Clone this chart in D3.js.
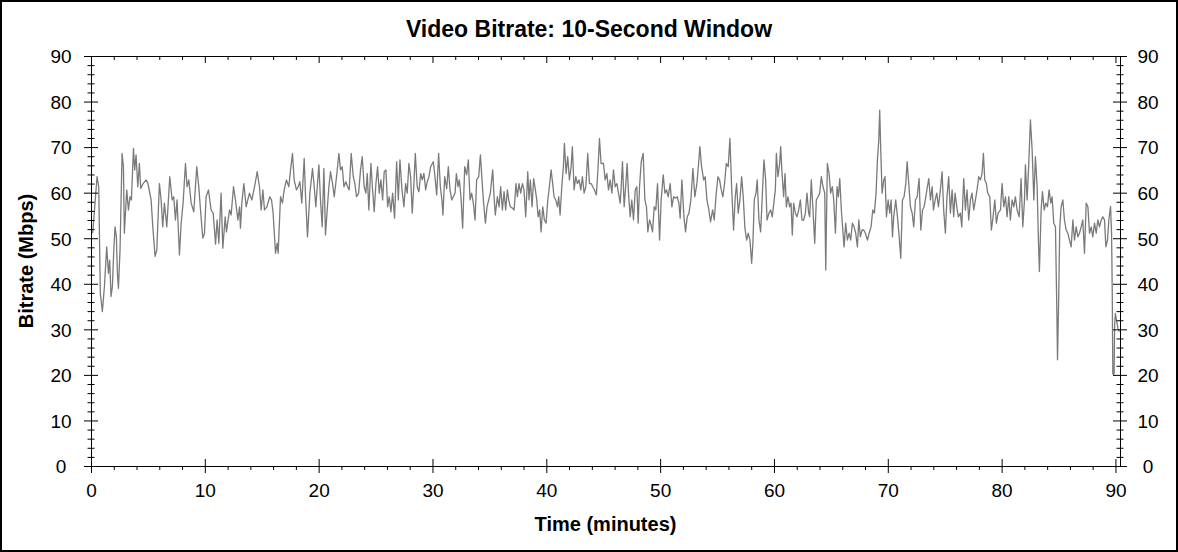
<!DOCTYPE html>
<html>
<head>
<meta charset="utf-8">
<script src="https://cdn.jsdelivr.net/npm/d3@7"></script>
<style>
  body { margin: 0; background: #fff; }
  svg text { font-family: "Liberation Sans", Arial, sans-serif; fill: #000; }
</style>
</head>
<body>
<div id="vis"></div>
<script>
const FRAME_WIDTH = 1178;
const FRAME_HEIGHT = 552;
const MARGINS = { top: 56, bottom: 466, left: 91, right: 1120 };

const TITLE = "Video Bitrate: 10-Second Window";
const X_TITLE = "Time (minutes)";
const Y_TITLE = "Bitrate (Mbps)";

const X_TICKS = [0, 10, 20, 30, 40, 50, 60, 70, 80, 90];
const Y_TICKS = [0, 10, 20, 30, 40, 50, 60, 70, 80, 90];

// [minute, Mbps], one array per stretch of the film
const SAMPLES_00_15 = [
  [0.15, 51.1], [0.53, 63.5], [0.68, 61.2], [0.82, 37.9], [1.0, 33.9], [1.18, 39.4], [1.38, 48.1],
  [1.53, 42.3], [1.64, 45.2], [1.76, 37.2], [1.88, 39.4], [1.99, 46.7], [2.11, 52.5], [2.23, 50.3],
  [2.32, 42.3], [2.41, 39.0], [2.55, 47.4], [2.73, 68.6], [2.85, 65.7], [2.93, 51.1], [3.14, 60.6],
  [3.29, 56.2], [3.43, 59.1], [3.55, 58.4], [3.73, 69.7], [3.84, 65.0], [3.96, 68.3], [4.11, 61.3],
  [4.25, 66.4], [4.37, 60.9], [4.58, 62.0], [4.84, 62.8], [5.01, 62.0], [5.28, 58.4], [5.43, 52.5],
  [5.63, 46.0], [5.78, 47.4], [6.01, 62.0], [6.16, 58.4], [6.3, 52.5], [6.45, 57.7], [6.66, 52.5],
  [6.92, 63.5], [7.13, 58.4], [7.27, 59.1], [7.42, 54.0], [7.56, 58.4], [7.77, 46.3], [7.92, 53.3],
  [8.09, 57.7], [8.3, 66.4], [8.44, 61.3], [8.59, 62.8], [8.8, 57.7], [9.03, 55.8], [9.29, 65.7],
  [9.47, 61.3], [9.62, 56.2], [9.82, 50.0], [9.97, 51.1], [10.11, 59.1], [10.32, 60.6], [10.55, 56.2],
  [10.73, 55.5], [10.85, 51.8], [10.94, 48.7], [11.08, 54.0], [11.23, 48.9], [11.43, 59.9], [11.58, 47.8],
  [11.79, 54.7], [11.9, 51.4], [12.17, 56.2], [12.31, 55.1], [12.52, 61.3], [12.69, 58.4], [12.9, 54.0],
  [13.05, 56.9], [13.13, 52.2], [13.25, 57.7], [13.43, 62.0], [13.63, 56.9], [13.92, 59.9], [14.13, 58.4],
  [14.42, 62.0], [14.6, 64.6], [14.8, 61.3], [14.95, 56.2], [15.1, 60.6], [15.24, 56.2], [15.45, 56.9],
];

const SAMPLES_15_30 = [
  [15.71, 59.1], [15.86, 58.4], [16.0, 55.5], [16.21, 46.7], [16.35, 48.9], [16.44, 46.7], [16.65, 59.1],
  [16.82, 57.7], [16.97, 60.6], [17.17, 62.8], [17.38, 61.3], [17.53, 65.0], [17.7, 68.6], [17.85, 62.8],
  [18.05, 60.6], [18.2, 61.3], [18.35, 62.4], [18.52, 57.7], [18.73, 67.5], [18.85, 59.1], [19.02, 50.3],
  [19.23, 59.9], [19.46, 65.3], [19.61, 61.3], [19.75, 56.9], [20.02, 66.1], [20.16, 58.4], [20.31, 52.5],
  [20.46, 65.3], [20.6, 50.7], [20.75, 56.2], [20.9, 61.3], [21.04, 64.6], [21.22, 62.0], [21.37, 59.1],
  [21.57, 63.5], [21.78, 68.6], [21.92, 65.0], [22.07, 65.7], [22.22, 61.3], [22.39, 62.4], [22.54, 61.3],
  [22.68, 60.6], [22.86, 68.6], [23.04, 63.5], [23.18, 62.0], [23.33, 59.1], [23.51, 59.9], [23.68, 65.0],
  [23.83, 67.9], [24.0, 61.3], [24.15, 59.9], [24.27, 64.2], [24.41, 56.2], [24.59, 66.4], [24.74, 60.6],
  [24.88, 55.8], [25.03, 62.0], [25.18, 65.7], [25.32, 59.9], [25.47, 62.8], [25.62, 58.4], [25.76, 64.6],
  [25.91, 65.0], [26.06, 56.9], [26.2, 59.1], [26.35, 55.8], [26.5, 59.9], [26.67, 54.4], [26.85, 66.8],
  [27.0, 58.4], [27.14, 67.2], [27.32, 60.6], [27.49, 56.9], [27.64, 62.0], [27.78, 59.9], [27.93, 66.4],
  [28.08, 63.5], [28.22, 55.5], [28.37, 62.0], [28.49, 68.6], [28.66, 61.3], [28.81, 60.2], [28.96, 64.2],
  [29.1, 62.8], [29.25, 64.2], [29.4, 60.6], [29.54, 62.4], [29.69, 63.5], [29.84, 65.7],
];

const SAMPLES_30_45 = [
  [30.07, 66.8], [30.22, 63.5], [30.37, 59.5], [30.54, 68.6], [30.69, 61.3], [30.83, 58.4], [30.92, 55.1],
  [31.07, 63.5], [31.25, 60.9], [31.39, 65.7], [31.54, 60.6], [31.69, 58.4], [31.83, 59.1], [31.98, 59.9],
  [32.1, 64.2], [32.24, 61.3], [32.36, 62.8], [32.5, 59.1], [32.65, 52.2], [32.83, 65.7], [33.0, 63.9],
  [33.15, 67.2], [33.3, 58.4], [33.44, 59.9], [33.59, 57.7], [33.74, 54.0], [33.88, 62.8], [34.06, 63.5],
  [34.21, 68.3], [34.35, 62.8], [34.47, 58.4], [34.65, 53.3], [34.79, 56.9], [34.94, 58.4], [35.08, 59.9],
  [35.29, 65.0], [35.41, 59.1], [35.52, 55.1], [35.7, 59.1], [35.85, 56.9], [35.99, 61.3], [36.14, 56.2],
  [36.29, 60.2], [36.43, 56.2], [36.58, 60.6], [36.7, 58.4], [36.84, 56.9], [37.02, 56.6], [37.17, 56.2],
  [37.34, 62.0], [37.46, 59.1], [37.6, 62.0], [37.75, 59.9], [37.9, 62.0], [38.04, 60.6], [38.19, 54.7],
  [38.37, 64.6], [38.48, 58.4], [38.6, 62.8], [38.75, 56.9], [38.89, 63.1], [39.04, 60.6], [39.16, 58.4],
  [39.28, 54.7], [39.42, 56.2], [39.54, 51.4], [39.69, 56.9], [39.83, 54.0], [39.98, 53.3], [40.13, 58.4],
  [40.27, 61.3], [40.42, 65.0], [40.56, 62.0], [40.68, 59.1], [40.83, 58.4], [40.98, 56.9], [41.09, 59.1],
  [41.21, 55.1], [41.36, 61.3], [41.5, 65.7], [41.59, 70.8], [41.74, 64.2], [41.88, 67.9], [42.03, 62.8],
  [42.18, 65.7], [42.29, 70.1], [42.44, 60.6], [42.59, 63.5], [42.73, 62.0], [42.88, 62.8], [43.03, 60.6],
  [43.17, 63.5], [43.32, 59.9], [43.47, 61.3], [43.64, 68.6], [43.79, 62.0], [43.94, 62.0], [44.08, 61.3],
  [44.23, 60.6], [44.4, 59.5], [44.55, 65.7], [44.67, 71.9], [44.81, 66.4],
];

const SAMPLES_45_60 = [
  [45.02, 66.4], [45.17, 62.8], [45.32, 64.2], [45.46, 60.6], [45.61, 62.8], [45.76, 59.9], [45.9, 65.0],
  [46.05, 61.3], [46.2, 62.0], [46.34, 59.9], [46.49, 57.7], [46.58, 61.3], [46.69, 66.8], [46.84, 56.9],
  [46.99, 62.0], [47.1, 66.4], [47.22, 59.9], [47.37, 54.7], [47.51, 58.4], [47.66, 54.0], [47.81, 60.6],
  [47.95, 61.3], [48.07, 53.3], [48.19, 61.3], [48.34, 66.8], [48.51, 68.6], [48.66, 58.4], [48.8, 56.9],
  [48.92, 51.4], [49.07, 54.0], [49.21, 52.9], [49.33, 51.4], [49.48, 56.9], [49.62, 56.2], [49.77, 62.0],
  [49.95, 49.6], [50.09, 58.4], [50.27, 63.9], [50.42, 59.9], [50.56, 60.6], [50.71, 59.1], [50.88, 62.0],
  [51.03, 56.9], [51.18, 59.1], [51.35, 58.8], [51.5, 59.1], [51.65, 57.7], [51.76, 54.4], [51.91, 62.8],
  [52.09, 54.7], [52.23, 51.4], [52.38, 54.7], [52.53, 55.5], [52.7, 58.4], [52.88, 65.3], [53.05, 59.1],
  [53.23, 62.0], [53.38, 66.4], [53.49, 70.1], [53.64, 65.7], [53.82, 62.8], [53.96, 63.5], [54.11, 58.4],
  [54.28, 56.2], [54.43, 53.6], [54.61, 56.2], [54.75, 54.0], [54.93, 59.9], [55.08, 63.5], [55.22, 62.8],
  [55.37, 60.6], [55.51, 59.1], [55.66, 62.0], [55.81, 66.4], [55.98, 65.7], [56.13, 71.9], [56.28, 61.3],
  [56.45, 51.8], [56.6, 59.1], [56.72, 62.0], [56.86, 55.5], [57.01, 58.4], [57.16, 63.5], [57.3, 59.1],
  [57.45, 52.2], [57.6, 49.6], [57.74, 51.1], [57.89, 49.6], [58.04, 44.5], [58.15, 48.9], [58.27, 58.4],
  [58.42, 59.9], [58.53, 62.8], [58.68, 54.0], [58.83, 51.4], [58.97, 59.1], [59.12, 67.2], [59.27, 62.8],
  [59.39, 54.0], [59.56, 55.5], [59.71, 56.2], [59.85, 54.7],
];

const SAMPLES_60_75 = [
  [60.12, 60.6], [60.21, 68.6], [60.35, 63.5], [60.5, 66.4], [60.59, 70.1], [60.71, 64.2], [60.85, 59.1],
  [60.97, 64.2], [61.09, 56.9], [61.23, 59.1], [61.38, 56.9], [61.5, 57.7], [61.61, 50.7], [61.73, 57.7],
  [61.88, 55.5], [62.02, 54.7], [62.17, 56.2], [62.32, 58.4], [62.46, 54.0], [62.61, 54.0], [62.76, 55.5],
  [62.9, 59.9], [63.05, 55.5], [63.14, 54.7], [63.28, 62.8], [63.43, 56.2], [63.58, 48.9], [63.72, 58.4],
  [63.87, 59.1], [64.02, 59.9], [64.16, 63.5], [64.31, 61.3], [64.46, 59.9], [64.55, 43.0], [64.69, 66.4],
  [64.84, 64.2], [64.98, 59.9], [65.13, 61.3], [65.25, 58.4], [65.4, 51.1], [65.54, 61.3], [65.66, 59.1],
  [65.78, 63.1], [65.92, 56.2], [66.07, 51.1], [66.16, 48.1], [66.3, 53.3], [66.45, 49.6], [66.6, 51.1],
  [66.74, 49.6], [66.89, 53.3], [67.04, 52.5], [67.18, 51.1], [67.33, 48.1], [67.45, 54.0], [67.59, 50.3],
  [67.74, 51.8], [67.89, 51.8], [68.03, 51.1], [68.21, 49.6], [68.36, 51.1], [68.53, 52.5], [68.68, 56.2],
  [68.82, 55.5], [68.97, 59.9], [69.09, 67.2], [69.21, 71.6], [69.29, 78.1], [69.38, 69.4], [69.5, 59.9],
  [69.65, 62.8], [69.76, 63.5], [69.88, 54.7], [70.03, 58.4], [70.17, 55.5], [70.29, 58.4], [70.41, 50.3],
  [70.52, 54.7], [70.7, 58.4], [70.85, 54.7], [71.0, 50.3], [71.14, 45.6], [71.29, 58.4], [71.43, 59.1],
  [71.58, 62.0], [71.7, 66.8], [71.84, 62.0], [71.99, 56.9], [72.14, 55.5], [72.28, 52.5], [72.43, 58.4],
  [72.58, 59.1], [72.75, 63.1], [72.9, 51.8], [73.05, 56.2], [73.19, 56.9], [73.34, 59.1], [73.48, 61.3],
  [73.6, 63.1], [73.75, 58.4], [73.9, 61.3], [74.01, 56.2], [74.16, 58.4], [74.3, 59.9], [74.45, 56.9],
];

const SAMPLES_75_90 = [
  [74.62, 60.6], [74.77, 64.6], [74.91, 56.2], [75.06, 51.1], [75.2, 59.1], [75.35, 63.5], [75.5, 55.5],
  [75.65, 60.6], [75.79, 54.7], [75.91, 59.9], [76.06, 56.9], [76.2, 54.7], [76.38, 55.5], [76.5, 52.5],
  [76.67, 63.1], [76.82, 56.2], [76.96, 60.6], [77.11, 54.0], [77.26, 58.4], [77.4, 59.9], [77.55, 56.2],
  [77.7, 58.4], [77.84, 60.6], [77.99, 63.5], [78.14, 62.8], [78.28, 64.2], [78.4, 68.6], [78.52, 62.8],
  [78.66, 62.0], [78.78, 59.9], [78.96, 59.1], [79.1, 51.8], [79.25, 54.7], [79.4, 58.4], [79.54, 53.3],
  [79.69, 55.5], [79.9, 56.2], [80.04, 62.0], [80.19, 56.9], [80.34, 59.1], [80.48, 54.7], [80.63, 59.1],
  [80.77, 54.0], [80.92, 58.4], [81.07, 56.9], [81.21, 59.1], [81.36, 56.2], [81.54, 54.7], [81.71, 63.1],
  [81.86, 52.5], [82.01, 58.4], [82.09, 66.1], [82.24, 58.4], [82.39, 66.8], [82.53, 76.0], [82.68, 69.4],
  [82.83, 58.4], [82.97, 67.9], [83.12, 61.3], [83.24, 48.9], [83.32, 42.7], [83.47, 56.2], [83.59, 60.2],
  [83.74, 56.2], [83.88, 57.7], [84.03, 56.9], [84.17, 60.6], [84.32, 57.7], [84.44, 59.1], [84.58, 53.3],
  [84.73, 52.5], [84.85, 34.2], [84.91, 23.3], [85.0, 35.0], [85.11, 52.5], [85.23, 56.9], [85.38, 58.4],
  [85.52, 54.0], [85.67, 51.8], [85.82, 51.1], [85.96, 49.6], [86.11, 48.1], [86.26, 54.0], [86.4, 49.6],
  [86.55, 52.5], [86.7, 50.3], [86.84, 51.1], [86.99, 52.5], [87.13, 54.0], [87.28, 46.7], [87.43, 57.7],
  [87.58, 56.9], [87.72, 51.1], [87.87, 52.5], [88.01, 50.3], [88.16, 53.3], [88.31, 51.1], [88.45, 54.0],
  [88.6, 52.5], [88.75, 54.0], [88.89, 54.7], [89.04, 54.0], [89.16, 48.1], [89.3, 49.6], [89.42, 54.0],
  [89.57, 57.0], [89.66, 51.1], [89.72, 38.0], [89.77, 20.2], [89.88, 20.2], [89.93, 31.0], [89.99, 33.5],
  [90.09, 32.0], [90.24, 30.0], [90.36, 29.5],
];

const SAMPLES = [].concat(
  SAMPLES_00_15, SAMPLES_15_30, SAMPLES_30_45,
  SAMPLES_45_60, SAMPLES_60_75, SAMPLES_75_90
);

const FRAME = d3
  .select("#vis")
  .append("svg")
  .attr("width", FRAME_WIDTH)
  .attr("height", FRAME_HEIGHT)
  .attr("class", "frame");

// outer border
FRAME.append("rect")
  .attr("x", 1)
  .attr("y", 1)
  .attr("width", FRAME_WIDTH - 2)
  .attr("height", FRAME_HEIGHT - 2)
  .attr("fill", "#fff")
  .attr("stroke", "#000")
  .attr("stroke-width", 2);

const X_SCALE = d3.scaleLinear().domain([0, 90.4]).range([MARGINS.left, MARGINS.right]);
const Y_SCALE = d3.scaleLinear().domain([0, 90]).range([MARGINS.bottom, MARGINS.top]);

const X_MINOR = d3.range(0, 91, 2).filter((v) => v % 10 !== 0);
const Y_MINOR = d3.range(0, 91, 2).filter((v) => v % 10 !== 0);

function addAxis(axis, tx, ty) {
  const g = FRAME.append("g")
    .attr("transform", `translate(${tx},${ty})`)
    .call(axis)
    .attr("font-family", null)
    .attr("font-size", 19);
  g.selectAll("line").attr("stroke", "#000");
  g.select(".domain").attr("stroke", "#000");
  return g;
}

// data line first so the axes sit on top
FRAME.append("path")
  .datum(SAMPLES)
  .attr("fill", "none")
  .attr("stroke", "#7a7a7a")
  .attr("stroke-width", 1.3)
  .attr("stroke-linejoin", "round")
  .attr(
    "d",
    d3.line()
      .x((d) => X_SCALE(d[0]))
      .y((d) => Y_SCALE(d[1]))
  );

// left axis: ticks cross the line
const LEFT = addAxis(
  d3.axisLeft(Y_SCALE).tickValues(Y_TICKS).tickSize(7).tickSizeOuter(0),
  MARGINS.left, 0
);
LEFT.selectAll("text").attr("x", -30).attr("dy", "0.36em").attr("text-anchor", "middle");
addAxis(d3.axisRight(Y_SCALE).tickValues(Y_TICKS).tickSize(7).tickSizeOuter(0).tickFormat(""), MARGINS.left, 0);
addAxis(d3.axisLeft(Y_SCALE).tickValues(Y_MINOR).tickSize(3.5).tickSizeOuter(0).tickFormat(""), MARGINS.left, 0);
addAxis(d3.axisRight(Y_SCALE).tickValues(Y_MINOR).tickSize(3.5).tickSizeOuter(0).tickFormat(""), MARGINS.left, 0);

// right axis, same look
const RIGHT = addAxis(
  d3.axisRight(Y_SCALE).tickValues(Y_TICKS).tickSize(7).tickSizeOuter(0),
  MARGINS.right, 0
);
RIGHT.selectAll("text").attr("x", 28).attr("dy", "0.36em").attr("text-anchor", "middle");
addAxis(d3.axisLeft(Y_SCALE).tickValues(Y_TICKS).tickSize(7).tickSizeOuter(0).tickFormat(""), MARGINS.right, 0);
addAxis(d3.axisLeft(Y_SCALE).tickValues(Y_MINOR).tickSize(3.5).tickSizeOuter(0).tickFormat(""), MARGINS.right, 0);
addAxis(d3.axisRight(Y_SCALE).tickValues(Y_MINOR).tickSize(3.5).tickSizeOuter(0).tickFormat(""), MARGINS.right, 0);

// bottom axis
const BOTTOM = addAxis(
  d3.axisBottom(X_SCALE).tickValues(X_TICKS).tickSize(7).tickSizeOuter(0),
  0, MARGINS.bottom
);
BOTTOM.selectAll("text").attr("y", 18);
addAxis(d3.axisTop(X_SCALE).tickValues(X_TICKS).tickSize(7).tickSizeOuter(0).tickFormat(""), 0, MARGINS.bottom);
addAxis(d3.axisBottom(X_SCALE).tickValues(X_MINOR).tickSize(4).tickSizeOuter(0).tickFormat(""), 0, MARGINS.bottom);

// top axis, ticks point down into the plot
addAxis(d3.axisBottom(X_SCALE).tickValues(X_TICKS).tickSize(7).tickSizeOuter(0).tickFormat(""), 0, MARGINS.top);
addAxis(d3.axisBottom(X_SCALE).tickValues(X_MINOR).tickSize(4).tickSizeOuter(0).tickFormat(""), 0, MARGINS.top);

FRAME.append("text")
  .attr("x", 589)
  .attr("y", 37)
  .attr("text-anchor", "middle")
  .style("font-size", "23px")
  .style("font-weight", "bold")
  .text(TITLE);

FRAME.append("text")
  .attr("x", (MARGINS.left + MARGINS.right) / 2)
  .attr("y", 531)
  .attr("text-anchor", "middle")
  .style("font-size", "20px")
  .style("font-weight", "bold")
  .text(X_TITLE);

FRAME.append("text")
  .attr("transform", `translate(33,${(MARGINS.top + MARGINS.bottom) / 2}) rotate(-90)`)
  .attr("text-anchor", "middle")
  .style("font-size", "20px")
  .style("font-weight", "bold")
  .text(Y_TITLE);
</script>
</body>
</html>
